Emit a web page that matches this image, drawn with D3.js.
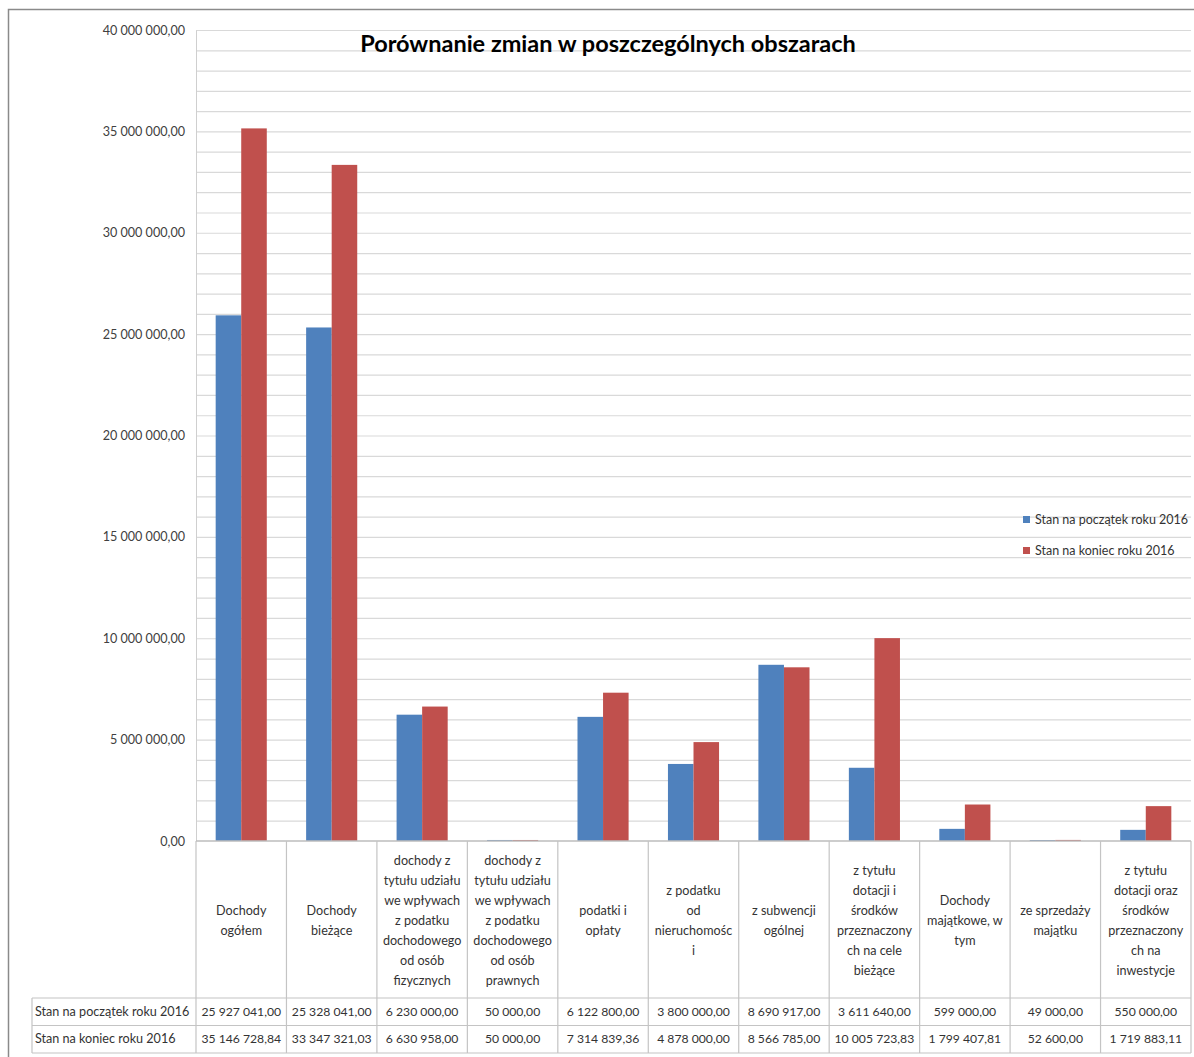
<!DOCTYPE html>
<html>
<head>
<meta charset="utf-8">
<script src="https://cdn.jsdelivr.net/npm/d3@7"></script>
<style>
	body { margin: 0; background: #fff; }
	svg { display: block; font-family: Lato, "Open Sans", sans-serif; }
</style>
</head>
<body>
<div id="chart"></div>
<script>
(function() {
	// categories, labels are wrapped the same way as in the original sheet
	var categories = [
		"Dochody\nogółem",
		"Dochody\nbieżące",
		"dochody z\ntytułu udziału\nwe wpływach\nz podatku\ndochodowego\nod osób\nfizycznych",
		"dochody z\ntytułu udziału\nwe wpływach\nz podatku\ndochodowego\nod osób\nprawnych",
		"podatki i\nopłaty",
		"z podatku\nod\nnieruchomośc\ni",
		"z subwencji\nogólnej",
		"z tytułu\ndotacji i\nśrodków\nprzeznaczony\nch na cele\nbieżące",
		"Dochody\nmajątkowe, w\ntym",
		"ze sprzedaży\nmajątku",
		"z tytułu\ndotacji oraz\nśrodków\nprzeznaczony\nch na\ninwestycje"
	];

	var seriesNames = ["Stan na początek roku 2016", "Stan na koniec roku 2016"];
	var seriesColors = ["#4F81BD", "#C0504D"];

	var startValues = [25927041.00, 25328041.00, 6230000.00, 50000.00, 6122800.00, 3800000.00, 8690917.00, 3611640.00, 599000.00, 49000.00, 550000.00];
	var endValues = [35146728.84, 33347321.03, 6630958.00, 50000.00, 7314839.36, 4878000.00, 8566785.00, 10005723.83, 1799407.81, 52600.00, 1719883.11];

	var yTickValues = [0, 5000000, 10000000, 15000000, 20000000, 25000000, 30000000, 35000000, 40000000];
	var yMax = 40000000;
	var gridStep = 1000000;

	var title = "Porównanie zmian w poszczególnych obszarach";

	var width = 1194, height = 1057;
	var plot = { left: 196, right: 1191, top: 30, bottom: 841 };
	var table = { left: 32, labelBottom: 998, rowHeight: 27.5 };
	var fontSize = "12.6px";

	var pl = d3.formatLocale({ decimal: ",", thousands: "\u00a0", grouping: [3], currency: ["", ""] });
	var fmt = pl.format(",.2f");

	var svg = d3.select("#chart")
		.append("svg")
		.attr("width", width)
		.attr("height", height);

	var xPositionScale = d3.scaleBand()
		.domain(d3.range(categories.length))
		.range([plot.left, plot.right])
		.paddingInner(0)
		.paddingOuter(0);

	var xSeriesScale = d3.scaleBand()
		.domain(d3.range(seriesNames.length))
		.range([0, xPositionScale.bandwidth()])
		.paddingInner(0)
		.paddingOuter(0.77);

	var yPositionScale = d3.scaleLinear()
		.domain([0, yMax])
		.range([plot.bottom, plot.top]);

	// outer chart border (right and bottom are off the picture)
	svg.append("path")
		.attr("d", "M8.5," + height + "V9.5H" + width)
		.attr("fill", "none")
		.attr("stroke", "#8a8a8a")
		.attr("stroke-width", 1.5);

	// gridlines every 1 000 000
	var grid = d3.axisLeft(yPositionScale)
		.tickValues(d3.range(gridStep, yMax + 1, gridStep))
		.tickSize(-(plot.right - plot.left))
		.tickFormat("");
	svg.append("g")
		.attr("class", "grid")
		.attr("transform", "translate(" + plot.left + ",0)")
		.call(grid)
		.call(function(g) {
			g.select(".domain").remove();
			g.selectAll("line").attr("stroke", "#d9d9d9").attr("stroke-width", 1.2);
		});

	// y axis labels
	var yAxis = d3.axisLeft(yPositionScale)
		.tickValues(yTickValues)
		.tickSize(0)
		.tickPadding(11)
		.tickFormat(fmt);
	svg.append("g")
		.attr("class", "axis y-axis")
		.attr("transform", "translate(" + plot.left + ",0)")
		.call(yAxis)
		.call(function(g) {
			g.select(".domain").attr("stroke", "#cfcfcf");
			g.selectAll("text")
				.attr("font-family", "Lato, sans-serif")
				.attr("font-size", fontSize)
				.attr("fill", "#404040");
		});

	// bars
	var groups = svg.selectAll(".cat")
		.data(categories)
		.enter()
		.append("g")
		.attr("class", "cat")
		.attr("transform", function(d, i) {
			return "translate(" + xPositionScale(i) + ",0)";
		});

	groups.selectAll("rect")
		.data(function(d, i) {
			return [startValues[i], endValues[i]];
		})
		.enter()
		.append("rect")
		.attr("x", function(d, j) { return xSeriesScale(j); })
		.attr("width", xSeriesScale.bandwidth())
		.attr("y", function(d) { return yPositionScale(d); })
		.attr("height", function(d) { return plot.bottom - yPositionScale(d); })
		.attr("fill", function(d, j) { return seriesColors[j]; });

	// title
	svg.append("text")
		.attr("x", 608)
		.attr("y", 52)
		.attr("text-anchor", "middle")
		.attr("font-size", "23.5px")
		.attr("font-weight", "bold")
		.attr("fill", "#000")
		.text(title);

	// legend
	var legend = svg.selectAll(".legend")
		.data(seriesNames)
		.enter()
		.append("g")
		.attr("class", "legend")
		.attr("transform", function(d, i) {
			return "translate(1023," + (520 + i * 31) + ")";
		});
	legend.append("rect")
		.attr("x", 0)
		.attr("y", -4)
		.attr("width", 7)
		.attr("height", 7)
		.attr("fill", function(d, i) { return seriesColors[i]; });
	legend.append("text")
		.attr("x", 12)
		.attr("y", 4)
		.attr("font-size", "12.5px")
		.attr("fill", "#333")
		.text(function(d) { return d; });

	// data table under the chart
	var lineColor = "#c4c4c4";
	var rowsTop = table.labelBottom;
	var tableBottom = rowsTop + 2 * table.rowHeight;
	var tbl = svg.append("g").attr("class", "data-table");

	// baseline
	tbl.append("line")
		.attr("x1", plot.left).attr("x2", plot.right)
		.attr("y1", plot.bottom).attr("y2", plot.bottom)
		.attr("stroke", "#bdbdbd").attr("stroke-width", 1.5);

	// column borders
	var colEdges = d3.range(categories.length + 1).map(function(i) {
		return i < categories.length ? xPositionScale(i) : plot.right;
	});
	tbl.selectAll(".col-line")
		.data(colEdges)
		.enter()
		.append("line")
		.attr("class", "col-line")
		.attr("x1", function(d) { return d; })
		.attr("x2", function(d) { return d; })
		.attr("y1", plot.bottom)
		.attr("y2", tableBottom)
		.attr("stroke", lineColor)
		.attr("stroke-width", 1.2);

	// row borders
	tbl.selectAll(".row-line")
		.data([rowsTop, rowsTop + table.rowHeight, tableBottom])
		.enter()
		.append("line")
		.attr("class", "row-line")
		.attr("x1", table.left)
		.attr("x2", plot.right)
		.attr("y1", function(d) { return d; })
		.attr("y2", function(d) { return d; })
		.attr("stroke", lineColor)
		.attr("stroke-width", 1.2);
	tbl.append("line")
		.attr("x1", table.left).attr("x2", table.left)
		.attr("y1", rowsTop).attr("y2", tableBottom)
		.attr("stroke", lineColor).attr("stroke-width", 1.2);

	// category labels
	var labelMid = (plot.bottom + table.labelBottom) / 2 + 1;
	var lineH = 20;
	categories.forEach(function(c, i) {
		var lines = c.split("\n");
		var t = tbl.append("text")
			.attr("text-anchor", "middle")
			.attr("font-size", fontSize)
			.attr("fill", "#333");
		lines.forEach(function(l, k) {
			t.append("tspan")
				.attr("x", xPositionScale(i) + xPositionScale.bandwidth() / 2)
				.attr("y", labelMid + (k - (lines.length - 1) / 2) * lineH + 4)
				.text(l);
		});
	});

	// series rows
	[startValues, endValues].forEach(function(vals, r) {
		var cy = rowsTop + table.rowHeight * r + table.rowHeight / 2 + 4;
		tbl.append("text")
			.attr("x", table.left + 3)
			.attr("y", cy)
			.attr("font-size", fontSize)
			.attr("fill", "#333")
			.text(seriesNames[r]);
		tbl.selectAll(".val-" + r)
			.data(vals)
			.enter()
			.append("text")
			.attr("class", "val-" + r)
			.attr("x", function(d, i) { return xPositionScale(i) + xPositionScale.bandwidth() / 2; })
			.attr("y", cy)
			.attr("text-anchor", "middle")
			.attr("font-size", "12.2px")
			.attr("fill", "#333")
			.text(function(d) { return fmt(d); });
	});
})();
</script>
</body>
</html>
